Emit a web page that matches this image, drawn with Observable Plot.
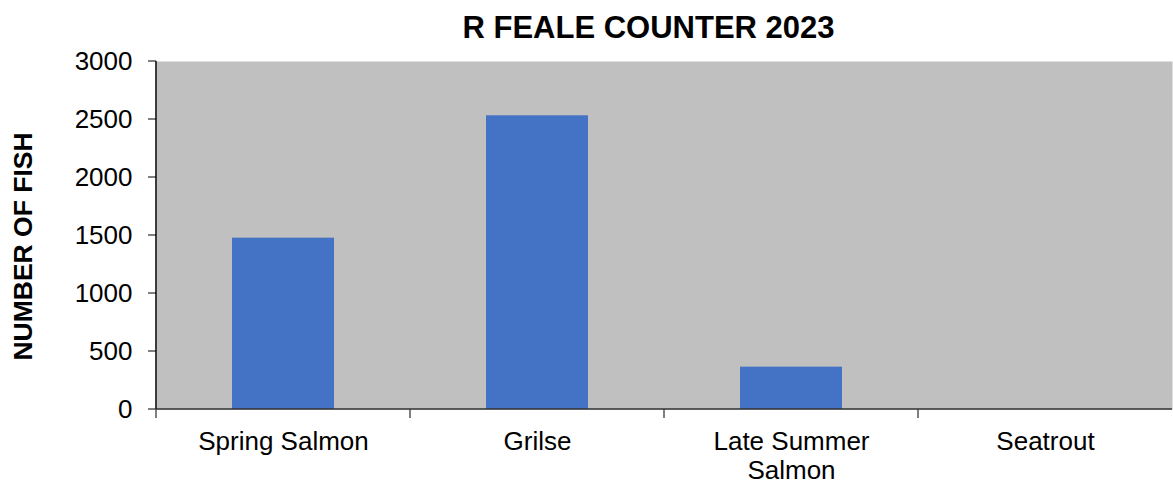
<!DOCTYPE html>
<html><head><meta charset="utf-8">
<script src="https://cdn.jsdelivr.net/npm/d3@7"></script>
<script src="https://cdn.jsdelivr.net/npm/@observablehq/plot@0.6"></script>
<style>body{margin:0;background:#fff}</style>
</head><body><div id="chart"></div>
<script>
const categories = ["Spring Salmon", "Grilse", "Late Summer Salmon", "Seatrout"];
const tickLabels = ["Spring Salmon", "Grilse", "Late Summer\nSalmon", "Seatrout"];
const counts = [1477, 2532, 365, 0];
const yTicks = [0, 500, 1000, 1500, 2000, 2500, 3000];
const title = "R FEALE COUNTER 2023";
const yLabel = "NUMBER OF FISH";

const data = categories.map((c, i) => ({category: c, count: counts[i], label: tickLabels[i]}));
const font = "'Liberation Sans', Arial, sans-serif";

const plot = Plot.plot({
  width: 1173, height: 486,
  marginTop: 61, marginBottom: 77, marginLeft: 156, marginRight: 1,
  style: {fontFamily: font, background: "#fff", color: "#000", overflow: "visible"},
  x: {domain: categories, paddingInner: 0.6, paddingOuter: 0.3, axis: null},
  y: {domain: [0, 3000], axis: null},
  marks: [
    Plot.frame({fill: "#c0c0c0", stroke: null}),
    Plot.barY(data, {x: "category", y: "count", fill: "#4472c4"}),
    Plot.axisY({ticks: yTicks, tickFormat: d3.format("d"), tickSize: 0, tickPadding: 24, fontSize: 26, fill: "#000", label: null}),
    Plot.text(data, {x: "category", text: "label", frameAnchor: "bottom", lineAnchor: "top", dy: 20, fontSize: 26, lineHeight: 1.12, fill: "#000"}),
    Plot.text([title], {frameAnchor: "top", dy: -33, dx: -16, lineAnchor: "middle", fontSize: 31, fontWeight: "bold", fill: "#000"}),
    Plot.text([yLabel], {frameAnchor: "left", textAnchor: "middle", lineAnchor: "middle", rotate: -90, dx: -133, dy: 11, fontSize: 26.5, fontWeight: "bold", fill: "#000"})
  ]
});

// axis lines and ticks, positioned via the plot's own scales
const xs = plot.scale("x");
const ys = plot.scale("y");
const svg = d3.select(plot);
const gap = (xs.step - xs.bandwidth) / 2;
const bounds = categories.map(c => xs.apply(c) - gap);
const y0 = ys.apply(0), yTop = ys.apply(3000);
const xLeft = bounds[0], xRight = xs.range[1];
const g = svg.append("g");
yTicks.forEach(t => {
  g.append("line").attr("x1", xLeft - 8).attr("x2", xLeft).attr("y1", ys.apply(t)).attr("y2", ys.apply(t))
    .attr("stroke", "#555").attr("stroke-width", 1.5);
});
bounds.forEach(b => {
  g.append("line").attr("x1", b).attr("x2", b).attr("y1", y0).attr("y2", y0 + 9)
    .attr("stroke", "#555").attr("stroke-width", 1.5);
});
g.append("line").attr("x1", xLeft).attr("x2", xLeft).attr("y1", yTop).attr("y2", y0).attr("stroke", "#000").attr("stroke-width", 1.5);
g.append("line").attr("x1", xLeft).attr("x2", xRight).attr("y1", y0).attr("y2", y0).attr("stroke", "#333").attr("stroke-width", 1.5);

document.getElementById("chart").appendChild(plot);
</script>
</body></html>
